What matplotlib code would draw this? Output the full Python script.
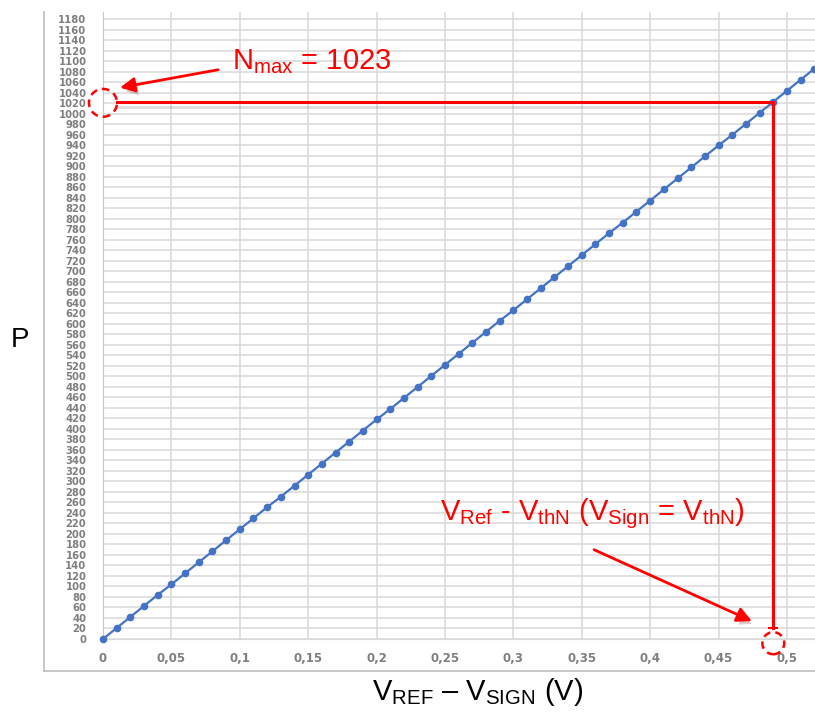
import matplotlib; matplotlib.use("Agg")
import matplotlib.pyplot as plt
import matplotlib.patheffects as pe
from matplotlib.patches import Ellipse, FancyArrowPatch
from matplotlib.lines import Line2D
import numpy as np

plt.rcParams['mathtext.fontset'] = 'custom'
plt.rcParams['mathtext.rm'] = 'Liberation Sans'
plt.rcParams['mathtext.it'] = 'Liberation Sans:italic'

# ---------- data ----------
v_diff = [0.00, 0.01, 0.02, 0.03, 0.04, 0.05, 0.06, 0.07, 0.08, 0.09,
          0.10, 0.11, 0.12, 0.13, 0.14, 0.15, 0.16, 0.17, 0.18, 0.19,
          0.20, 0.21, 0.22, 0.23, 0.24, 0.25, 0.26, 0.27, 0.28, 0.29,
          0.30, 0.31, 0.32, 0.33, 0.34, 0.35, 0.36, 0.37, 0.38, 0.39,
          0.40, 0.41, 0.42, 0.43, 0.44, 0.45, 0.46, 0.47, 0.48, 0.49,
          0.50, 0.51, 0.52]
p_val = [0, 21, 42, 63, 84, 104, 125, 146, 167, 188,
         209, 230, 251, 271, 292, 313, 334, 355, 376, 397,
         418, 438, 459, 480, 501, 522, 543, 564, 585, 606,
         626, 647, 668, 689, 710, 731, 752, 773, 793, 814,
         835, 856, 877, 898, 919, 940, 960, 981, 1002, 1023,
         1044, 1065, 1086]
x_ticks = [0, 0.05, 0.1, 0.15, 0.2, 0.25, 0.3, 0.35, 0.4, 0.45, 0.5]
x_ticklabels = ["0", "0,05", "0,1", "0,15", "0,2", "0,25", "0,3", "0,35", "0,4", "0,45", "0,5"]
y_ticks = list(range(0, 1181, 20))
n_max = 1023
v_nmax = 0.49

RED = "#FF0000"
BLUE = "#4472C4"

fig = plt.figure(figsize=(8.15, 7.14), dpi=100)
ax = fig.add_axes([103/815, 75/714, 712/815, 627/714])
ax.set_xlim(0, 0.5205); ax.set_ylim(0, 1194)

ax.plot(v_diff, p_val, color=BLUE, lw=1.6, marker="o", ms=4.5, clip_on=False, zorder=3)

ax.set_xticks(x_ticks); ax.set_xticklabels(x_ticklabels)
ax.set_yticks(y_ticks)
ax.tick_params(length=0, labelcolor="#7F7F7F")
ax.tick_params(axis="y", pad=12, labelsize=7.2); ax.tick_params(axis="x", pad=9, labelsize=8.5)
for t in ax.get_xticklabels() + ax.get_yticklabels():
    t.set_fontweight("bold")
ax.grid(True, color="#D9D9D9", lw=1.1)
for s in ["top", "right"]:
    ax.spines[s].set_visible(False)
ax.spines["left"].set_color("#C8C8C8"); ax.spines["bottom"].set_color("#D9D9D9")

# chart frame (left + bottom border)
fig.add_artist(Line2D([44/815, 44/815], [1-12/714, 1-671/714], color="#BFBFBF", lw=1.2))
fig.add_artist(Line2D([44/815, 1], [1-671/714, 1-671/714], color="#BFBFBF", lw=1.2))

# axis labels
fig.text(20/815, 1-340/714, "P", fontsize=20, family="Liberation Sans", ha="center", va="center")
fig.text(478/815, 1-692/714, r"V$_{\mathregular{REF}}$ – V$_{\mathregular{SIGN}}$ (V)",
         fontsize=21, family="Liberation Sans", ha="center", va="center")

# red annotations
shadow = [pe.SimpleLineShadow(offset=(0, -4), shadow_color="gray", alpha=0.25), pe.Normal()]
ax.plot([0.0105, v_nmax], [n_max, n_max], color=RED, lw=2.2, zorder=4, path_effects=shadow)
ax.plot([v_nmax, v_nmax], [n_max, 21], color=RED, lw=2.2, zorder=4)
ax.plot([v_nmax], [21], marker="_", ms=7, mew=1.5, color=RED, zorder=4)

ax.add_patch(Ellipse((0, 1021), 0.0205, 53, fill=False, ec=RED, lw=1.8, ls=(0, (3, 2)),
                     clip_on=False, zorder=5))
ax.add_patch(Ellipse((0.49, -8), 0.016, 42, fill=False, ec=RED, lw=1.8, ls=(0, (3, 2)),
                     clip_on=False, zorder=5))

ax.text(0.094, 1099, r"N$_{\mathregular{max}}$ = 1023", color=RED, fontsize=21,
        family="Liberation Sans", va="center", ha="left")
ax.text(0.246, 238, r"V$_{\mathregular{Ref}}$ - V$_{\mathregular{thN}}$ (V$_{\mathregular{Sign}}$ = V$_{\mathregular{thN}}$)",
        color=RED, fontsize=21, family="Liberation Sans", va="center", ha="left")

for p, q in [((0.0841, 1084), (0.0124, 1050)), ((0.359, 170), (0.4744, 34))]:
    ax.add_patch(FancyArrowPatch(p, q, arrowstyle="-|>", mutation_scale=22, lw=2, color=RED,
                                 shrinkA=0, shrinkB=0, clip_on=False, zorder=5,
                                 path_effects=[pe.SimplePatchShadow(offset=(2, -3), alpha=0.2), pe.Normal()]))

plt.savefig("out.png", dpi=100)
